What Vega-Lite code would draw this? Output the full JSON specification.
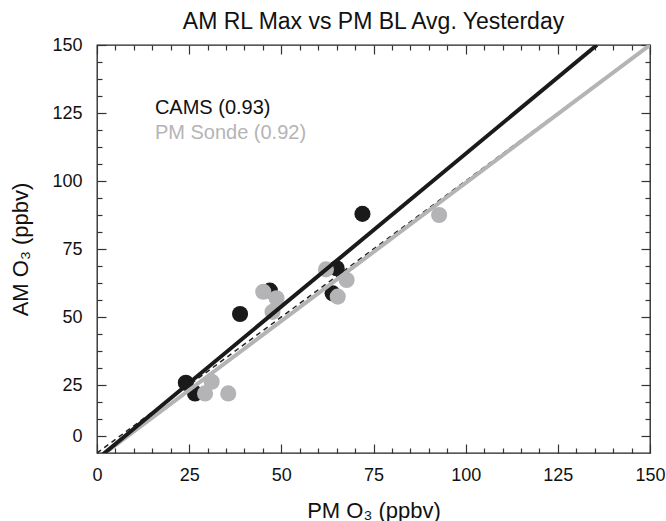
{
  "$schema": "https://vega.github.io/schema/vega-lite/v6.json",
  "width": 553,
  "height": 408,
  "autosize": {"type": "none"},
  "padding": {"left": 97, "top": 45, "right": 16, "bottom": 68},
  "title": {"text": "AM RL Max vs PM BL Avg. Yesterday", "fontSize": 23, "fontWeight": "normal", "font": "Liberation Sans", "color": "#111111", "offset": 2, "anchor": "middle"},
  "config": {
    "view": {"stroke": "#222222", "strokeWidth": 1.3},
    "font": "Liberation Sans",
    "axis": {"grid": false, "domain": false, "labelFlush": false, "tickColor": "#333333", "tickWidth": 1.2, "labelColor": "#111111", "titleColor": "#111111", "labelFont": "Liberation Sans", "titleFont": "Liberation Sans", "labelFontSize": 18, "titleFontSize": 22, "titleFontWeight": "normal"}
  },
  "datasets": {
    "cams": [
      {"pm": 24.1, "am": 25.8}, {"pm": 26.6, "am": 21.9}, {"pm": 38.8, "am": 51.1},
      {"pm": 46.9, "am": 59.7}, {"pm": 65.0, "am": 67.9}, {"pm": 63.9, "am": 58.7},
      {"pm": 72.0, "am": 87.9}
    ],
    "sonde": [
      {"pm": 29.3, "am": 21.9}, {"pm": 31.1, "am": 26.2}, {"pm": 35.6, "am": 21.9},
      {"pm": 45.1, "am": 59.3}, {"pm": 48.7, "am": 56.9}, {"pm": 47.6, "am": 51.9},
      {"pm": 62.1, "am": 67.5}, {"pm": 67.7, "am": 63.6}, {"pm": 65.3, "am": 57.5},
      {"pm": 92.8, "am": 87.5}
    ],
    "one2one": [{"pm": 0, "am": 0}, {"pm": 150, "am": 150}],
    "camsfit": [{"pm": 0, "am": -2.3}, {"pm": 135.6, "am": 150}],
    "sondefit": [{"pm": 2.2, "am": 0}, {"pm": 150, "am": 150}],
    "legend1": [{"pm": 15.7, "am": 126.8, "label": "CAMS (0.93)"}],
    "legend2": [{"pm": 15.7, "am": 117.6, "label": "PM Sonde (0.92)"}]
  },
  "resolve": {"axis": {"x": "independent", "y": "independent"}},
  "layer": [
    {
      "data": {"name": "cams"},
      "mark": {"type": "circle", "size": 260, "opacity": 1, "color": "#1a1a1a"},
      "encoding": {
        "x": {"field": "pm", "type": "quantitative", "scale": {"domain": [0, 150], "nice": false, "zero": false},
          "axis": {"orient": "bottom", "values": [0, 25, 50, 75, 100, 125, 150], "tickSize": -9, "labelPadding": 22, "title": "PM O₃ (ppbv)", "titlePadding": 16}},
        "y": {"field": "am", "type": "quantitative", "scale": {"domain": [0, 150], "nice": false, "zero": false},
          "axis": {"orient": "left", "values": [6.25, 25, 50, 75, 100, 125, 150], "labelExpr": "datum.value == 6.25 ? '0' : datum.label", "tickSize": -9, "labelPadding": 24, "title": "AM O₃ (ppbv)", "titlePadding": 19}}
      }
    },
    {
      "data": {"name": "sonde"},
      "mark": {"type": "circle", "size": 260, "opacity": 1, "color": "#b4b4b6"},
      "encoding": {
        "x": {"field": "pm", "type": "quantitative", "scale": {"domain": [0, 150], "nice": false, "zero": false},
          "axis": {"orient": "bottom", "values": [5, 10, 15, 20, 30, 35, 40, 45, 55, 60, 65, 70, 80, 85, 90, 95, 105, 110, 115, 120, 130, 135, 140, 145], "tickSize": -5, "labels": false, "title": null}},
        "y": {"field": "am", "type": "quantitative", "scale": {"domain": [0, 150], "nice": false, "zero": false},
          "axis": {"orient": "left", "values": [12.5, 18.75, 31.25, 37.5, 43.75, 56.25, 62.5, 68.75, 81.25, 87.5, 93.75, 106.25, 112.5, 118.75, 131.25, 137.5, 143.75], "tickSize": -5, "labels": false, "title": null}}
      }
    },
    {
      "data": {"name": "one2one"},
      "mark": {"type": "line", "color": "#222222", "strokeWidth": 1.5, "strokeDash": [5, 4], "clip": true},
      "encoding": {
        "x": {"field": "pm", "type": "quantitative", "scale": {"domain": [0, 150], "nice": false, "zero": false},
          "axis": {"orient": "top", "values": [0, 25, 50, 75, 100, 125, 150], "tickSize": -9, "labels": false, "title": null}},
        "y": {"field": "am", "type": "quantitative", "scale": {"domain": [0, 150], "nice": false, "zero": false},
          "axis": {"orient": "right", "values": [6.25, 25, 50, 75, 100, 125, 150], "tickSize": -9, "labels": false, "title": null}}
      }
    },
    {
      "data": {"name": "sondefit"},
      "mark": {"type": "line", "color": "#b4b4b6", "strokeWidth": 4, "clip": true},
      "encoding": {
        "x": {"field": "pm", "type": "quantitative", "scale": {"domain": [0, 150], "nice": false, "zero": false},
          "axis": {"orient": "top", "values": [5, 10, 15, 20, 30, 35, 40, 45, 55, 60, 65, 70, 80, 85, 90, 95, 105, 110, 115, 120, 130, 135, 140, 145], "tickSize": -5, "labels": false, "title": null}},
        "y": {"field": "am", "type": "quantitative", "scale": {"domain": [0, 150], "nice": false, "zero": false},
          "axis": {"orient": "right", "values": [12.5, 18.75, 31.25, 37.5, 43.75, 56.25, 62.5, 68.75, 81.25, 87.5, 93.75, 106.25, 112.5, 118.75, 131.25, 137.5, 143.75], "tickSize": -5, "labels": false, "title": null}}
      }
    },
    {
      "data": {"name": "camsfit"},
      "mark": {"type": "line", "color": "#1a1a1a", "strokeWidth": 4, "clip": true},
      "encoding": {
        "x": {"field": "pm", "type": "quantitative", "scale": {"domain": [0, 150], "nice": false, "zero": false}, "axis": null},
        "y": {"field": "am", "type": "quantitative", "scale": {"domain": [0, 150], "nice": false, "zero": false}, "axis": null}
      }
    },
    {
      "data": {"name": "legend1"},
      "mark": {"type": "text", "align": "left", "baseline": "middle", "fontSize": 20, "font": "Liberation Sans", "color": "#111111"},
      "encoding": {
        "x": {"field": "pm", "type": "quantitative", "scale": {"domain": [0, 150], "nice": false, "zero": false}, "axis": null},
        "y": {"field": "am", "type": "quantitative", "scale": {"domain": [0, 150], "nice": false, "zero": false}, "axis": null},
        "text": {"field": "label", "type": "nominal"}
      }
    },
    {
      "data": {"name": "legend2"},
      "mark": {"type": "text", "align": "left", "baseline": "middle", "fontSize": 20, "font": "Liberation Sans", "color": "#b4b4b6"},
      "encoding": {
        "x": {"field": "pm", "type": "quantitative", "scale": {"domain": [0, 150], "nice": false, "zero": false}, "axis": null},
        "y": {"field": "am", "type": "quantitative", "scale": {"domain": [0, 150], "nice": false, "zero": false}, "axis": null},
        "text": {"field": "label", "type": "nominal"}
      }
    }
  ]
}
